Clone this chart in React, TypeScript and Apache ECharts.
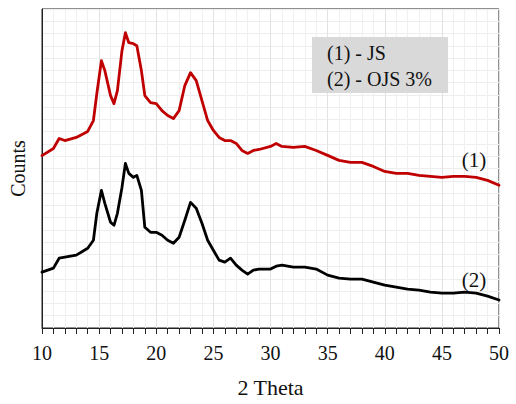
import React, { useEffect, useRef } from "react";
import * as echarts from "echarts";

// 2θ positions (degrees)
const theta = [
  10, 11, 11.5, 12, 13, 14, 14.5, 14.8, 15.2, 15.5, 16, 16.3, 16.6, 17, 17.3, 17.6, 18, 18.3, 18.7,
  19, 19.5, 20, 20.5, 21, 21.5, 22, 22.5, 23, 23.5, 24, 24.5, 25, 25.5, 26, 26.5, 27, 27.5, 28,
  28.5, 29, 30, 30.5, 31, 32, 33, 34, 35, 36, 37, 38, 39, 40, 41, 42, 43, 44, 45, 46, 47, 48, 49, 50,
];

// (1) JS
const countsJS = [
  1405, 1463, 1545, 1528, 1553, 1602, 1691, 1911, 2179, 2098, 1894, 1829, 1935, 2260, 2407, 2325, 2317, 2301, 2098,
  1894, 1837, 1829, 1772, 1732, 1707, 1772, 1976, 2081, 2016, 1854, 1691, 1610, 1553, 1528, 1528, 1504, 1447, 1423,
  1447, 1455, 1480, 1504, 1480, 1472, 1480, 1447, 1407, 1366, 1350, 1350, 1317, 1276, 1260, 1260, 1244, 1236, 1228,
  1236, 1236, 1228, 1203, 1163,
];

// (2) OJS 3%
const countsOJS = [
  455, 488, 569, 577, 594, 650, 715, 935, 1122, 1016, 862, 837, 935, 1146, 1341, 1260, 1228, 1244, 1122,
  821, 780, 780, 756, 715, 691, 740, 878, 1024, 976, 854, 715, 634, 553, 537, 569, 512, 472, 439,
  472, 480, 480, 504, 512, 496, 496, 480, 431, 407, 398, 398, 374, 350, 333, 317, 309, 293, 285,
  285, 293, 285, 260, 228,
];

const legendLines = ["(1) - JS", "(2) - OJS 3%"];
const curveTags = ["(1)", "(2)"];

const FONT = '"Liberation Serif", "Times New Roman", serif';

export default function App() {
  const ref = useRef<HTMLDivElement>(null);

  useEffect(() => {
    if (!ref.current) return;
    const chart = echarts.init(ref.current, null, { renderer: "svg" });
    const toPairs = (ys: number[]) => theta.map((x, i) => [x, ys[i]]);

    chart.setOption({
      animation: false,
      backgroundColor: "#ffffff",
      grid: {
        left: 42,
        right: 17,
        top: 9,
        bottom: 76,
        show: true,
        borderColor: "#222",
        borderWidth: 1,
        backgroundColor: "transparent",
      },
      xAxis: {
        type: "value",
        min: 10,
        max: 50,
        interval: 5,
        name: "2 Theta",
        nameLocation: "middle",
        nameGap: 48,
        nameTextStyle: { fontFamily: FONT, fontSize: 22, color: "#111" },
        axisLine: { show: true, lineStyle: { color: "#222", width: 1 } },
        axisTick: { show: true, inside: false, length: 6, lineStyle: { color: "#222" } },
        minorTick: { show: true, splitNumber: 5, length: 6, lineStyle: { color: "#222" } },
        axisLabel: { fontFamily: FONT, fontSize: 20, color: "#111", margin: 15 },
        splitLine: { show: true, lineStyle: { color: "#e2e2e2", width: 1 } },
        minorSplitLine: { show: true, lineStyle: { color: "#f0f0f0", width: 1 } },
      },
      yAxis: {
        type: "value",
        min: 0,
        max: 2600,
        interval: 100,
        name: "Counts",
        nameLocation: "middle",
        nameGap: 14,
        nameTextStyle: { fontFamily: FONT, fontSize: 20, color: "#111" },
        axisLine: { show: true, lineStyle: { color: "#222", width: 1 } },
        axisTick: { show: false },
        axisLabel: { show: false },
        splitLine: { show: true, lineStyle: { color: "#ededed", width: 1 } },
      },
      series: [
        {
          name: "JS",
          type: "line",
          data: toPairs(countsJS),
          showSymbol: false,
          smooth: false,
          lineStyle: { color: "#c00000", width: 2.8, join: "round", cap: "round" },
          z: 3,
        },
        {
          name: "OJS 3%",
          type: "line",
          data: toPairs(countsOJS),
          showSymbol: false,
          smooth: false,
          lineStyle: { color: "#000000", width: 2.8, join: "round", cap: "round" },
          z: 3,
        },
      ],
      graphic: [
        {
          type: "rect",
          shape: { x: 312, y: 37, width: 136, height: 56 },
          style: { fill: "#d9d9d9" },
          z: 10,
        },
        {
          type: "text",
          x: 327,
          y: 53,
          style: { text: legendLines[0], font: `20px ${FONT}`, fill: "#111", verticalAlign: "middle" },
          z: 11,
        },
        {
          type: "text",
          x: 327,
          y: 79,
          style: { text: legendLines[1], font: `20px ${FONT}`, fill: "#111", verticalAlign: "middle" },
          z: 11,
        },
        {
          type: "text",
          x: 474,
          y: 160,
          style: { text: curveTags[0], font: `21px ${FONT}`, fill: "#111", align: "center", verticalAlign: "middle" },
          z: 11,
        },
        {
          type: "text",
          x: 474,
          y: 280,
          style: { text: curveTags[1], font: `21px ${FONT}`, fill: "#111", align: "center", verticalAlign: "middle" },
          z: 11,
        },
      ],
    });

    return () => chart.dispose();
  }, []);

  return <div ref={ref} style={{ width: 516, height: 404, position: "absolute", left: 0, top: 0 }} />;
}
